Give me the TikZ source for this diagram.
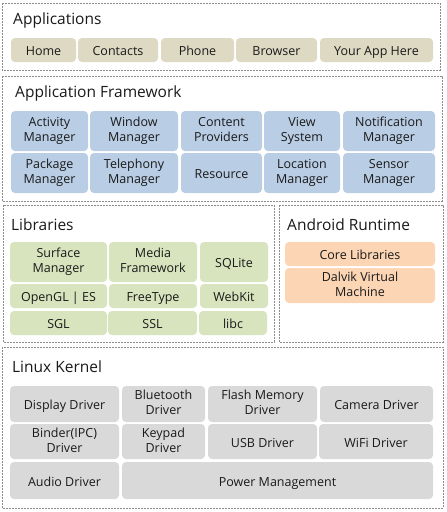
\documentclass[tikz,border=0pt]{standalone}
\usepackage{fontspec}
\setmainfont{Open Sans}

\definecolor{appcol}{HTML}{DDD9C3}
\definecolor{fwcol}{HTML}{B9CDE5}
\definecolor{libcol}{HTML}{D7E4BD}
\definecolor{rtcol}{HTML}{FCD5B5}
\definecolor{kercol}{HTML}{D9D9D9}
\definecolor{framecol}{HTML}{8C8C8C}
\definecolor{inkcol}{HTML}{1A1A1A}

\begin{document}
\begin{tikzpicture}[
    x=1pt, y=-1pt,
    layer/.style={draw=framecol, dash pattern=on 2pt off 1pt, line width=0.8pt},
    title/.style={anchor=west, inner sep=0pt, text=inkcol,
      font=\fontsize{15.5}{18}\selectfont},
    block/.style={rounded corners=4pt, inner sep=0pt, align=center, text=inkcol,
      font=\fontsize{12.5}{15}\selectfont,
      execute at begin node={\rule{0pt}{14pt}},
      execute at end node={\rule[-3pt]{0pt}{3pt}}}
  ]
  \useasboundingbox [fill=white] (0, 0) rectangle (447, 512);

  % Applications
  \draw [layer] (2, 3) rectangle (440, 70);
  \node [title] (apps) at (13, 20) {Applications};
  \foreach \a/\b/\nm/\t in {11/76/home/Home, 78/158/contacts/Contacts,
      161/234/phone/Phone, 236/317/browser/Browser, 320/433/yourapp/Your App Here} {
    \node [block, fill=appcol, minimum width={\b-\a}, minimum height=24]
      (\nm) at ({(\a+\b)/2}, 50) {\t};
  }

  % Application Framework
  \draw [layer] (2, 76) rectangle (442, 201);
  \node [title] (fw) at (15, 93) {Application Framework};
  \foreach \a/\b/\nm/\t in {11/88/activity/{Activity\\Manager},
      90/178/window/{Window\\Manager}, 181/262/content/{Content\\Providers},
      264/340/view/{View\\System}, 343/435/notify/{Notification\\Manager}} {
    \node [block, fill=fwcol, minimum width={\b-\a}, minimum height=40]
      (\nm) at ({(\a+\b)/2}, 131) {\t};
  }
  \foreach \a/\b/\nm/\t in {11/88/package/{Package\\Manager},
      90/178/telephony/{Telephony\\Manager}, 181/262/resource/Resource,
      264/340/location/{Location\\Manager}, 343/435/sensor/{Sensor\\Manager}} {
    \node [block, fill=fwcol, minimum width={\b-\a}, minimum height=40]
      (\nm) at ({(\a+\b)/2}, 173) {\t};
  }

  % Libraries
  \draw [layer] (3, 205) rectangle (274, 342);
  \node [title] (libs) at (11, 225) {Libraries};
  \foreach \a/\b/\nm/\t in {10/107/surface/{Surface\\Manager},
      109/197/media/{Media\\Framework}, 200/268/sqlite/SQLite} {
    \node [block, fill=libcol, minimum width={\b-\a}, minimum height=40]
      (\nm) at ({(\a+\b)/2}, 262) {\t};
  }
  \foreach \a/\b/\nm/\t in {10/107/opengl/OpenGL | ES,
      109/197/freetype/FreeType, 200/268/webkit/WebKit} {
    \node [block, fill=libcol, minimum width={\b-\a}, minimum height=24]
      (\nm) at ({(\a+\b)/2}, 296) {\t};
  }
  \foreach \a/\b/\nm/\t in {10/107/sgl/SGL, 108/197/ssl/SSL, 199/267/libc/libc} {
    \node [block, fill=libcol, minimum width={\b-\a}, minimum height=24]
      (\nm) at ({(\a+\b)/2}, 323) {\t};
  }

  % Android Runtime
  \draw [layer] (279, 205) rectangle (443, 342);
  \node [title] (runtime) at (287, 225) {Android Runtime};
  \node [block, fill=rtcol, minimum width=150, minimum height=24]
    (core) at (360, 254) {Core Libraries};
  \node [block, fill=rtcol, minimum width=150, minimum height=35]
    (dalvik) at (360, 285.5) {Dalvik Virtual\\Machine};

  % Linux Kernel
  \draw [layer] (2, 347) rectangle (443, 508);
  \node [title] (kernel) at (12, 367) {Linux Kernel};
  \foreach \a/\b/\nm/\t in {10/119/display/Display Driver,
      122/205/bluetooth/{Bluetooth\\Driver}, 208/317/flash/{Flash Memory\\Driver},
      320/433/camera/Camera Driver} {
    \node [block, fill=kercol, minimum width={\b-\a}, minimum height=36]
      (\nm) at ({(\a+\b)/2}, 404) {\t};
  }
  \foreach \a/\b/\nm/\t in {10/119/binder/{Binder(IPC)\\Driver},
      122/205/keypad/{Keypad\\Driver}, 208/317/usb/USB Driver,
      319/433/wifi/WiFi Driver} {
    \node [block, fill=kercol, minimum width={\b-\a}, minimum height=35]
      (\nm) at ({(\a+\b)/2}, 441.5) {\t};
  }
  \node [block, fill=kercol, minimum width=109, minimum height=37]
    (audio) at (64.5, 480.5) {Audio Driver};
  \node [block, fill=kercol, minimum width=311, minimum height=37]
    (power) at (277.5, 480.5) {Power Management};
\end{tikzpicture}
\end{document}
